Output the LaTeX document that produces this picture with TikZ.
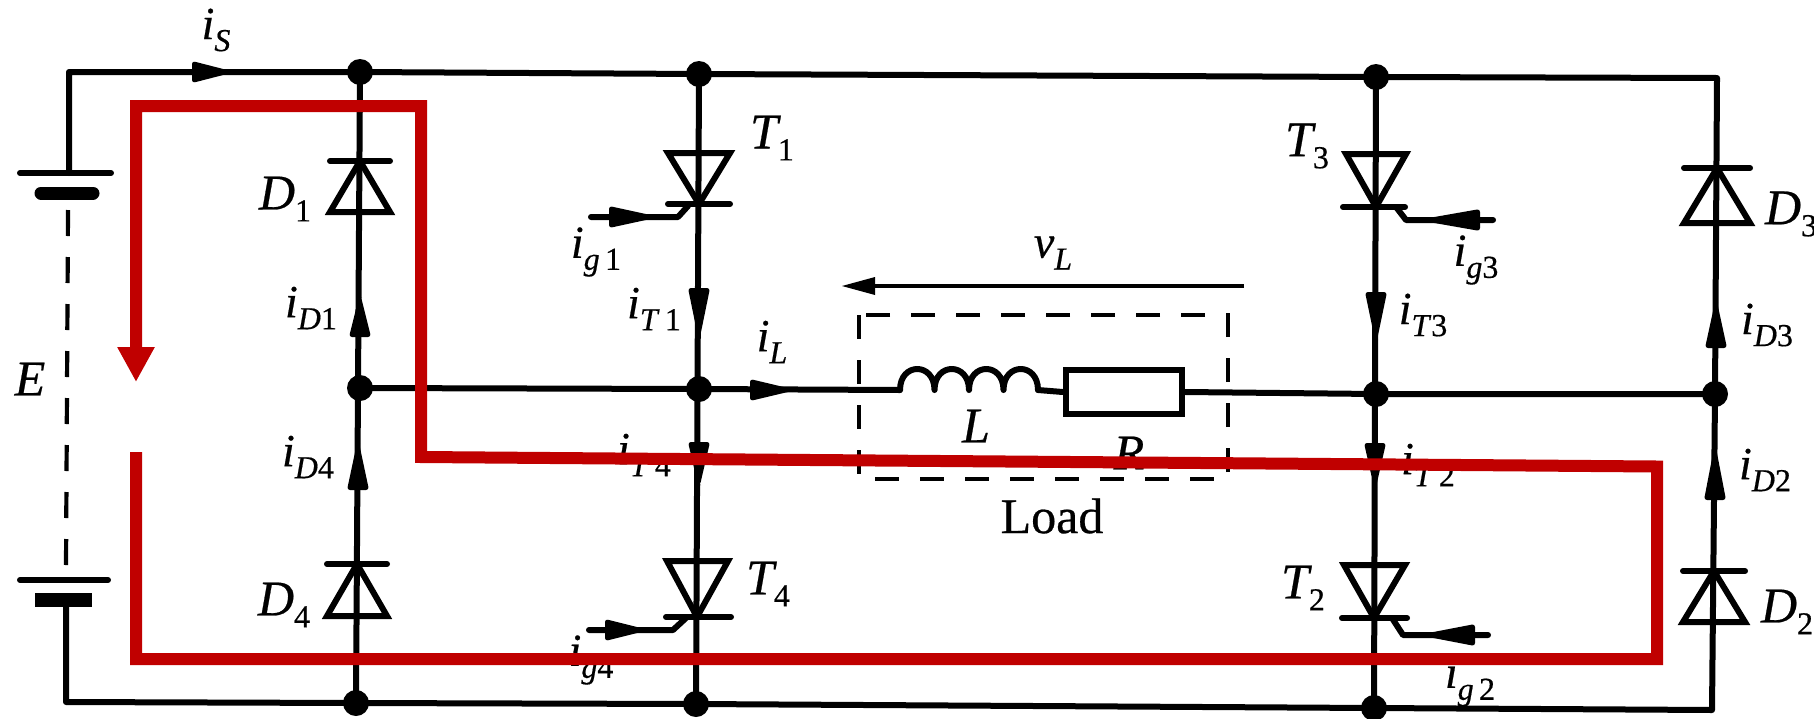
\documentclass[tikz,border=0pt]{standalone}
\usepackage{fontspec}
\setmainfont{Liberation Serif}[UprightFeatures={FakeBold=0.5},ItalicFeatures={FakeBold=0.5}]
\usetikzlibrary{arrows.meta}
\definecolor{loopred}{HTML}{C00000}
\newcommand{\lablg}[2]{{\fontsize{25}{25}\selectfont\itshape #1}\raisebox{-6pt}{\fontsize{16}{16}\selectfont #2}}
\newcommand{\labcur}[2]{{\fontsize{23}{23}\selectfont\itshape #1}\raisebox{-6pt}{\fontsize{16}{16}\selectfont #2}}
\newcommand{\labit}[1]{\textit{#1}}
% vertical current arrow: x, base y, apex y
\newcommand{\varrow}[3]{\fill[rounded corners=1.5pt] (#1-11,#2) -- (#1+11,#2) -- (#1+1,#3) -- (#1-1,#3) -- cycle;}
% horizontal current arrow: base x, apex x, y
\newcommand{\harrow}[3]{\fill[rounded corners=1.5pt] (#1,#3-11) -- (#1,#3+11) -- (#2,#3+1) -- (#2,#3-1) -- cycle;}
% diode: x, bar y, base y, half width
\newcommand{\diodeup}[4]{\draw[part] (#1-#4,#2) -- (#1+#4,#2); \draw[part,line join=miter] (#1-#4,#3) -- (#1+#4,#3) -- (#1,#2) -- cycle;}
\tikzset{
  wire/.style={line width=3pt,line cap=round,line join=round},
  part/.style={line width=3pt,line cap=round},
  junction/.style={circle,fill=black,inner sep=0pt,minimum size=13pt},
  dashline/.style={line width=2.1pt,dash pattern=on 13pt off 10.5pt},
  txt/.style={inner sep=0pt,anchor=center},
  redpath/.style={draw=loopred,line width=6pt,line join=miter,-{Triangle[length=17.5pt,width=17.5pt,inset=0pt]}}
}
\begin{document}
\begin{tikzpicture}[x=0.5pt,y=-0.5pt]
\useasboundingbox (0,0) rectangle (1814,718);
\fill[white] (0,0) rectangle (1814,718);
% junctions
\node[junction] (jt1) at (360,72) {};
\node[junction] (jt2) at (699,74) {};
\node[junction] (jt3) at (1376,77) {};
\node[junction] (jm1) at (360,388) {};
\node[junction] (jm2) at (699,389) {};
\node[junction] (jm3) at (1376,394) {};
\node[junction] (jm4) at (1715,394) {};
\node[junction] (jb1) at (356,703) {};
\node[junction] (jb2) at (696,704) {};
\node[junction] (jb3) at (1374,708) {};
\coordinate (ctl) at (69,72);
\coordinate (ctr) at (1717,78);
\coordinate (cbl) at (66,702);
\coordinate (cbr) at (1712,710);
\coordinate (bat1) at (69,173);
\coordinate (bat1b) at (68,210);
\coordinate (bat2) at (66,600);
\coordinate (bat2b) at (66,568);
% rails
\draw[wire] (bat1) -- (ctl) -- (jt1.center) -- (jt2.center) -- (jt3.center) -- (ctr) -- (jm4.center);
\draw[wire] (bat2) -- (cbl) -- (jb1.center) -- (jb2.center) -- (jb3.center) -- (cbr) -- (jm4.center);
\draw[wire] (jt1.center) -- (jb1.center);
\draw[wire] (jt2.center) -- (jb2.center);
\draw[wire] (jt3.center) -- (jb3.center);
% battery
\draw[part] (20,173) -- (111,173);
\draw[line width=6.5pt,line cap=round] (41,193) -- (93,193);
\draw[part] (20,580) -- (108,580);
\draw[line width=7pt] (35,600) -- (92,600);
\draw[dashline] (bat1b) -- (bat2b);
% diodes
\diodeup{360}{161}{212}{30}
\diodeup{357}{564}{616}{30}
\diodeup{1717}{168}{223}{33}
\diodeup{1714}{571}{622}{31}
% thyristors (triangle down, bar at apex)
\draw[part,line join=miter] (668,153) -- (730,153) -- (699,204) -- cycle;
\draw[part] (668,204) -- (730,204);
\draw[part,line join=miter] (667,561) -- (728,561) -- (697,617) -- cycle;
\draw[part] (666,617) -- (731,617);
\draw[part,line join=miter] (1346,154) -- (1406,154) -- (1376,207) -- cycle;
\draw[part] (1343,207) -- (1405,207);
\draw[part,line join=miter] (1344,565) -- (1405,565) -- (1374,618) -- cycle;
\draw[part] (1342,618) -- (1407,618);
% gates
\draw[wire] (688,206) -- (678,217) -- (591,217);
\harrow{609}{655}{217}
\draw[wire] (686,618) -- (673,630) -- (589,630);
\harrow{605}{645}{630}
\draw[wire] (1396,207) -- (1406,220) -- (1493,220);
\harrow{1480}{1423}{220}
\draw[wire] (1392,618) -- (1403,635) -- (1488,635);
\harrow{1475}{1423}{635}
% middle wire and load
\coordinate (indL) at (900,390);
\coordinate (indR) at (1038,390);
\node[draw,line width=3.3pt,inner sep=0pt,minimum width=58pt,minimum height=22pt] (res) at (1124,392) {};
\draw[wire] (jm1.center) -- (jm2.center) -- (indL);
\draw[wire] (indL) .. controls +(0,-28) and +(0,-28) .. ++(34.5,0)
  .. controls +(0,-28) and +(0,-28) .. ++(34.5,0)
  .. controls +(0,-28) and +(0,-28) .. ++(34.5,0)
  .. controls +(0,-28) and +(0,-28) .. (indR);
\draw[wire] (indR) -- (res.west);
\draw[wire] (res.east) -- (jm3.center) -- (jm4.center);
\draw[line width=1.9pt,dash pattern=on 12pt off 10.5pt] (859,315) rectangle (1228,479);
% vL
\coordinate (vr) at (1244,286);
\coordinate (vl) at (860,286);
\draw[line width=2.2pt] (vr) -- (vl);
\fill (875,277) -- (875,295) -- (842,286) -- cycle;
% current arrows
\harrow{192}{231}{72}
\harrow{750}{792}{390}
\varrow{360}{337}{297}
\varrow{358}{490}{443}
\varrow{699}{288}{337}
\varrow{699}{442}{485}
\varrow{1376}{292}{340}
\varrow{1375}{443}{487}
\varrow{1716}{348}{302}
\varrow{1715}{500}{448}
% labels
\node[txt] (tE) at (30,385) {\lablg{E}{}};
\node[txt] (tiS) at (216,30) {\labcur{i}{\labit{S}}};
\node[txt] (tD1) at (285,199) {\lablg{D}{1}};
\node[txt] (tD4) at (284,605) {\lablg{D}{4}};
\node[txt] (tD3) at (1791,214) {\lablg{D}{3}};
\node[txt] (tD2) at (1787,612) {\lablg{D}{2}};
\node[txt] (tT1) at (772,138) {\lablg{T}{1}};
\node[txt] (tT4) at (768,584) {\lablg{T}{4}};
\node[txt] (tT3) at (1307,146) {\lablg{T}{3}};
\node[txt] (tT2) at (1303,588) {\lablg{T}{2}};
\node[txt] (tiD1) at (311,308) {\labcur{i}{\labit{D}1}};
\node[txt] (tiD4) at (308,457) {\labcur{i}{\labit{D}4}};
\node[txt] (tiD3) at (1767,325) {\labcur{i}{\labit{D}3}};
\node[txt] (tiD2) at (1765,470) {\labcur{i}{\labit{D}2}};
\node[txt] (tiT1) at (654,309) {\labcur{i}{\labit{T}\,1}};
\node[txt] (tiT4) at (644,455) {\labcur{i}{\labit{T}\,4}};
\node[txt] (tiT3) at (1423,315) {\labcur{i}{\labit{T}3}};
\node[txt] (tiT2) at (1428,465) {\labcur{i}{\labit{T}\,2}};
\node[txt] (tig1) at (596,252) {\labcur{i}{\labit{g}\,1}};
\node[txt] (tig4) at (591,660) {\labcur{i}{\labit{g}4}};
\node[txt] (tig3) at (1476,260) {\labcur{i}{\labit{g}3}};
\node[txt] (tig2) at (1470,682) {\labcur{i}{\labit{g}\,2}};
\node[txt] (tiL) at (772,342) {\labcur{i}{\labit{L}}};
\node[txt] (tvL) at (1053,253) {\labcur{v}{\labit{L}}};
\node[txt] (tL) at (976,432) {\lablg{L}{}};
\node[txt] (tR) at (1129,459) {\lablg{R}{}};
\node[txt] (tLoad) at (1052,516) {\fontsize{25}{25}\selectfont Load};
% red loop on top
\coordinate (r0) at (136,452);
\coordinate (r1) at (136,659);
\coordinate (r2) at (1657,659);
\coordinate (r3) at (1657,466.5);
\coordinate (r4) at (421,457);
\coordinate (r5) at (421,106);
\coordinate (r6) at (136,106);
\coordinate (r7) at (136,382);
\draw[redpath] (r0) -- (r1) -- (r2) -- (r3) -- (r4) -- (r5) -- (r6) -- (r7);
\end{tikzpicture}
\end{document}
